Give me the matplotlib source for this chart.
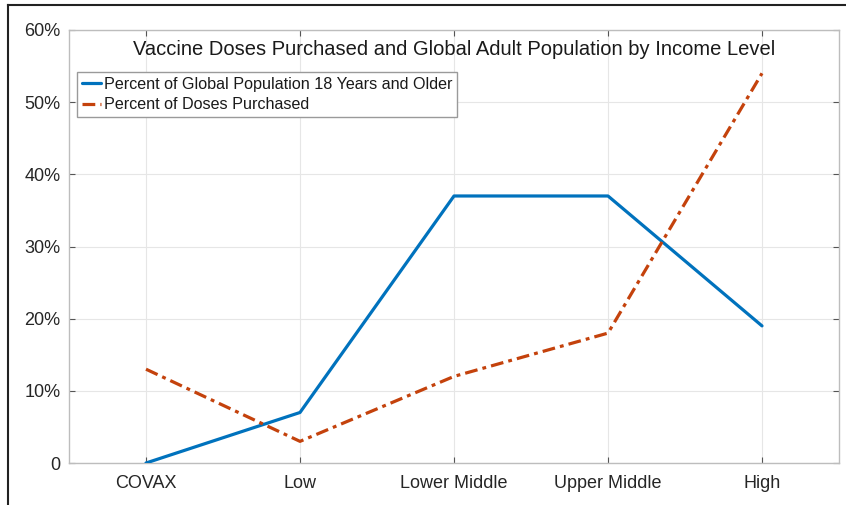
import numpy as np
import matplotlib
import matplotlib.pyplot as plt
from matplotlib.ticker import FuncFormatter
from matplotlib.lines import Line2D

# data
categories = ['COVAX', 'Low', 'Lower Middle', 'Upper Middle', 'High']
pop_pct = [0, 7, 37, 37, 19]
doses_pct = [13, 3, 12, 18, 54]
yticks = [0, 10, 20, 30, 40, 50, 60]

plt.rcParams['font.family'] = ['Liberation Sans', 'DejaVu Sans']

fig = plt.figure(figsize=(8.46, 5.05), dpi=100)
ax = fig.add_axes([69 / 846, 1 - 463 / 505, (839 - 69) / 846, (463 - 30) / 505])

x = np.arange(len(categories))
ax.plot(x, pop_pct, color='#0072BD', lw=2.3, solid_capstyle='round',
        label='Percent of Global Population 18 Years and Older', zorder=3)
ax.plot(x, doses_pct, color='#C4420C', lw=2.3, linestyle=(0, (4, 1.6, 1.2, 1.6)),
        label='Percent of Doses Purchased', zorder=3)

ax.set_xlim(-0.5, 4.5)
ax.set_ylim(0, 60)
ax.set_xticks(x)
ax.set_xticklabels(categories)
ax.set_yticks(yticks)
ax.yaxis.set_major_formatter(FuncFormatter(lambda v, p: '0' if v == 0 else '%d%%' % v))
ax.grid(True, color='#e6e6e6', lw=0.8)
ax.set_axisbelow(True)
ax.tick_params(direction='in', length=4, color='#555555', labelsize=13,
               labelcolor='#262626', top=True, right=True)
ax.tick_params(axis='y', pad=6)
ax.tick_params(axis='x', pad=9)
for s in ax.spines.values():
    s.set_color('#bdbdbd')
    s.set_linewidth(1.0)

ax.text(0.5, 0.976, 'Vaccine Doses Purchased and Global Adult Population by Income Level',
        transform=ax.transAxes, ha='center', va='top', fontsize=14.5, color='#1a1a1a')

leg = ax.legend(loc='upper left', bbox_to_anchor=(0.0104, 0.903), fontsize=11.6,
                handlelength=1.2, handletextpad=0.15, borderpad=0.3, labelspacing=0.35,
                borderaxespad=0, fancybox=False, framealpha=1)
leg.get_frame().set_edgecolor('#9a9a9a')
leg.get_frame().set_linewidth(1.0)
for t in leg.get_texts():
    t.set_color('#1a1a1a')

# outer frame of the screenshot (top and left edges)
fig.add_artist(Line2D([8 / 846, 8 / 846], [0, 1 - 5 / 505], color='#222222', lw=1.5))
fig.add_artist(Line2D([8 / 846, 1], [1 - 5 / 505, 1 - 5 / 505], color='#222222', lw=1.5))

fig.savefig('out.png', dpi=100)
